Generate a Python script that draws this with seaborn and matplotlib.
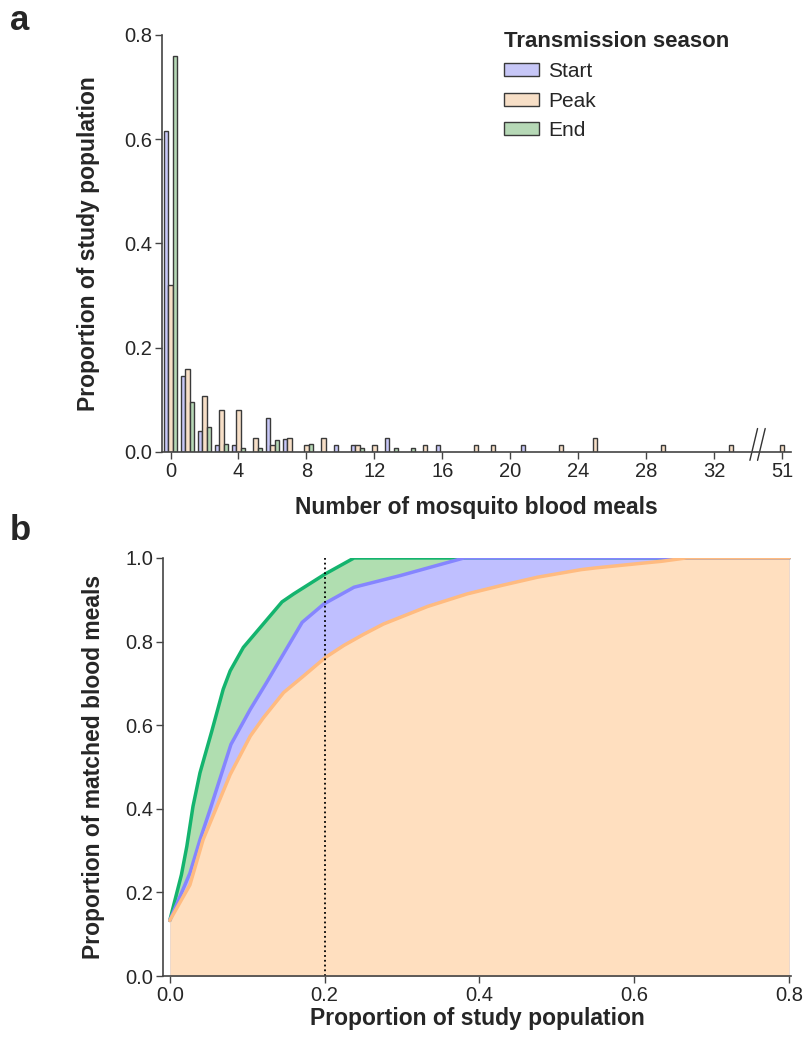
import seaborn as sns
import matplotlib.pyplot as plt
import pandas as pd
import numpy as np

sns.set_style("ticks")
plt.rcParams['font.family'] = ['Liberation Sans', 'DejaVu Sans']

# panel a: proportion of people by number of blood meals
start_meals = [0, 1, 2, 3, 4, 6, 7, 10, 11, 13, 16, 21]
start_prop = [0.616, 0.145, 0.040, 0.013, 0.013, 0.066, 0.025, 0.013, 0.013, 0.026, 0.013, 0.013]
peak_meals = [0, 1, 2, 3, 4, 5, 6, 7, 8, 9, 11, 12, 15, 18, 19, 23, 25, 29, 33, 51]
peak_prop = [0.320, 0.160, 0.107, 0.080, 0.080, 0.026, 0.013, 0.026, 0.013, 0.026,
             0.013, 0.013, 0.013, 0.013, 0.013, 0.013, 0.027, 0.013, 0.013, 0.013]
end_meals = [0, 1, 2, 3, 4, 5, 6, 8, 11, 13, 14]
end_prop = [0.760, 0.096, 0.048, 0.016, 0.008, 0.008, 0.023, 0.016, 0.008, 0.008, 0.008]

tick_vals = [0, 4, 8, 12, 16, 20, 24, 28, 32, 51]

# panel b: cumulative share of matched blood meals
start_x = [0, 0.026, 0.039, 0.052, 0.079, 0.104, 0.125, 0.171, 0.199, 0.238, 0.298, 0.337, 0.380, 0.8]
start_y = [0.133, 0.246, 0.326, 0.398, 0.554, 0.638, 0.702, 0.846, 0.890, 0.930, 0.958, 0.978, 1.0, 1.0]
peak_x = [0, 0.026, 0.043, 0.078, 0.104, 0.121, 0.147, 0.173, 0.201, 0.225, 0.250, 0.276,
          0.333, 0.384, 0.428, 0.475, 0.531, 0.549, 0.613, 0.635, 0.667, 0.8]
peak_y = [0.133, 0.218, 0.326, 0.482, 0.574, 0.618, 0.678, 0.718, 0.762, 0.791, 0.817, 0.842,
          0.884, 0.914, 0.934, 0.954, 0.972, 0.976, 0.988, 0.992, 1.0, 1.0]
end_x = [0, 0.015, 0.022, 0.030, 0.039, 0.054, 0.069, 0.078, 0.095, 0.145, 0.160, 0.201, 0.238, 0.8]
end_y = [0.133, 0.242, 0.310, 0.406, 0.486, 0.584, 0.686, 0.730, 0.786, 0.895, 0.914, 0.962, 1.0, 1.0]

seasons = ["Start", "Peak", "End"]
fills = {"Start": "#bfbfff", "Peak": "#ffdfbf", "End": "#b0deb0"}
lines = {"Start": "#8585ff", "Peak": "#ffbb80", "End": "#14b46e"}


def axis_pos(m):
    # broken axis: 51 is drawn right after the break
    return m if m <= 33 else 36


df = pd.concat([
    pd.DataFrame({"meals": start_meals, "prop": start_prop, "season": "Start"}),
    pd.DataFrame({"meals": peak_meals, "prop": peak_prop, "season": "Peak"}),
    pd.DataFrame({"meals": end_meals, "prop": end_prop, "season": "End"}),
])
df["pos"] = df["meals"].map(axis_pos)

fig = plt.figure(figsize=(8.06, 10.4), dpi=100)
ax1 = fig.add_axes([0.201, 0.5654, 0.780, 0.401])
ax2 = fig.add_axes([0.202, 0.0615, 0.780, 0.402])

sns.barplot(data=df, x="pos", y="prop", hue="season", hue_order=seasons,
            palette=fills, native_scale=True, width=0.75, errorbar=None,
            edgecolor="#3a3a3a", linewidth=1, ax=ax1)
ax1.set_xlim(-0.5, 36.5)
ax1.set_ylim(0, 0.8)
ax1.set_xticks([axis_pos(v) for v in tick_vals])
ax1.set_xticklabels([str(v) for v in tick_vals])
ax1.set_yticks([0, 0.2, 0.4, 0.6, 0.8])
ax1.set_yticklabels(["0.0", "0.2", "0.4", "0.6", "0.8"])
ax1.set_xlabel("Number of mosquito blood meals", fontsize=16.5, fontweight="bold")
ax1.set_ylabel("Proportion of study population", fontsize=16.5, fontweight="bold")
ax1.xaxis.set_label_coords(0.5, -0.105)
ax1.yaxis.set_label_coords(-0.099, 0.5)

# break marks
for x0 in [34.1, 34.55]:
    ax1.plot([x0, x0 + 0.45], [-0.016, 0.045], color="#333333", lw=1, clip_on=False)

handles, labels = ax1.get_legend_handles_labels()
leg = ax1.legend(handles, labels, title="Transmission season", frameon=False,
                 loc="upper left", bbox_to_anchor=(0.53, 1.03), borderaxespad=0,
                 fontsize=15, title_fontsize=16, alignment="left",
                 handlelength=1.7, handleheight=0.6, handletextpad=0.45,
                 labelspacing=0.5)
leg.get_title().set_fontweight("bold")

# panel b
curves = {"End": (end_x, end_y), "Start": (start_x, start_y), "Peak": (peak_x, peak_y)}
for s in ["End", "Start", "Peak"]:
    xs, ys = curves[s]
    ax2.fill_between(xs, 0, ys, color=fills[s], lw=0)
    sns.lineplot(x=xs, y=ys, color=lines[s], lw=2.5, sort=False, ax=ax2)
ax2.plot([0.2, 0.2], [0, 1], color="black", ls=":", lw=1.3)
ax2.set_xlim(-0.009, 0.803)
ax2.set_ylim(0, 1.0)
ax2.set_xticks([0, 0.2, 0.4, 0.6, 0.8])
ax2.set_xticklabels(["0.0", "0.2", "0.4", "0.6", "0.8"])
ax2.set_yticks([0, 0.2, 0.4, 0.6, 0.8, 1.0])
ax2.set_yticklabels(["0.0", "0.2", "0.4", "0.6", "0.8", "1.0"])
ax2.set_xlabel("Proportion of study population", fontsize=16.5, fontweight="bold")
ax2.set_ylabel("Proportion of matched blood meals", fontsize=16.5, fontweight="bold")
ax2.xaxis.set_label_coords(0.5, -0.075)
ax2.yaxis.set_label_coords(-0.092, 0.5)

for ax in [ax1, ax2]:
    sns.despine(ax=ax)
    for sp in ["left", "bottom"]:
        ax.spines[sp].set_color("#444444")
        ax.spines[sp].set_linewidth(1.2)
    ax.tick_params(labelsize=14.5, length=5, width=1, color="#444444", pad=2)

fig.text(0.012, 0.996, "a", fontsize=25, fontweight="bold", va="top")
fig.text(0.012, 0.506, "b", fontsize=25, fontweight="bold", va="top")

fig.savefig("out.png", dpi=100)
